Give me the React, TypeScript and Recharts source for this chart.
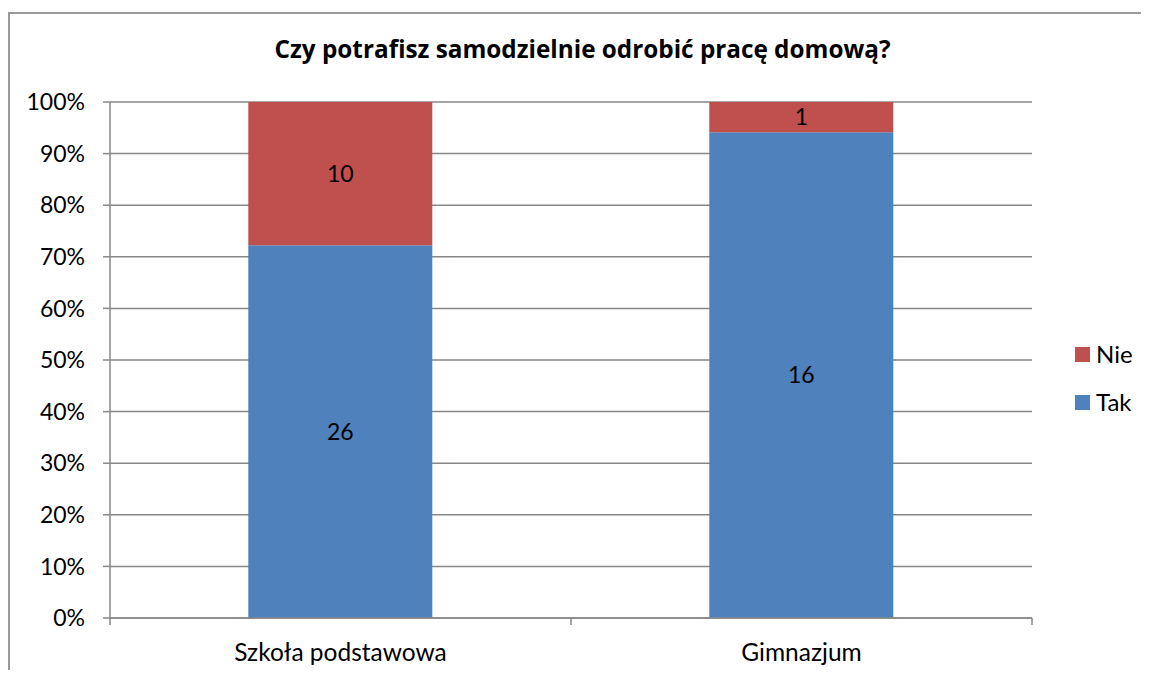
import React from "react";
import { BarChart, Bar, XAxis, YAxis, CartesianGrid, LabelList, Legend } from "recharts";

const categories = ["Szkoła podstawowa", "Gimnazjum"];
const takValues = [26, 16];
const nieValues = [10, 1];
const yTicks = [0, 0.1, 0.2, 0.3, 0.4, 0.5, 0.6, 0.7, 0.8, 0.9, 1];
const title = "Czy potrafisz samodzielnie odrobić pracę domową?";

const data = categories.map((c, i) => ({ name: c, Tak: takValues[i], Nie: nieValues[i] }));

const FONT = "Lato, 'Open Sans', sans-serif";
const TITLE_FONT = "'Open Sans', sans-serif";
const GRID = "#878787";
const BLUE = "#4F81BD";
const RED = "#C0504D";

const X_TICK_SIZE = 7;

const XTick = (props: any) => {
  const { x, y, payload, index, visibleTicksCount } = props;
  const axisY = y - X_TICK_SIZE;
  const half = 461 / 2;
  return (
    <g>
      <line x1={x - half} x2={x - half} y1={axisY} y2={axisY + X_TICK_SIZE} stroke={GRID} strokeWidth={1.5} />
      {index === (visibleTicksCount ?? 2) - 1 && (
        <line x1={x + half} x2={x + half} y1={axisY} y2={axisY + X_TICK_SIZE} stroke={GRID} strokeWidth={1.5} />
      )}
      <text x={x} y={axisY + 43} textAnchor="middle" fill="#000" fontSize={24.5} fontFamily={FONT}>
        {payload.value}
      </text>
    </g>
  );
};

const LegendContent = () => (
  <svg width={66} height={70} style={{ display: "block", overflow: "visible" }}>
    <rect x={0} y={0} width={15} height={15} fill={RED} />
    <text x={21} y={16} fontSize={24} fontFamily={FONT} fill="#000">Nie</text>
    <rect x={0} y={48} width={15} height={15} fill={BLUE} />
    <text x={21} y={64} fontSize={24} fontFamily={FONT} fill="#000">Tak</text>
  </svg>
);

export default function App() {
  return (
    <div
      style={{
        position: "relative",
        margin: -8,
        width: 1149,
        height: 678,
        overflow: "hidden",
        background: "#fff",
      }}
    >
      <div
        style={{
          position: "absolute",
          left: 8,
          top: 12,
          width: 1141,
          height: 666,
          borderLeft: `2px solid #999`,
          borderTop: `2px solid #999`,
          boxSizing: "border-box",
          pointerEvents: "none",
        }}
      />
      <svg width={1141} height={80} style={{ position: "absolute", left: 8, top: 8 }}>
        <text x={574.5} y={50} textAnchor="middle" fontSize={24.3} fontWeight="bold" fontFamily={TITLE_FONT} fill="#000">
          {title}
        </text>
      </svg>
      <div style={{ position: "absolute", left: 8, top: 8 }}>
        <BarChart
          width={1133}
          height={662}
          data={data}
          stackOffset="expand"
          barCategoryGap="30%"
          margin={{ top: 94, right: 109, bottom: 2, left: 0 }}
        >
          <CartesianGrid vertical={false} stroke={GRID} strokeWidth={1.5} />
          <XAxis
            dataKey="name"
            height={50}
            axisLine={{ stroke: GRID, strokeWidth: 1.5 }}
            tickLine={false}
            tickSize={X_TICK_SIZE}
            tickMargin={0}
            tick={<XTick />}
            interval={0}
          />
          <YAxis
            width={102}
            domain={[0, 1]}
            ticks={yTicks}
            tickFormatter={(v: number) => `${Math.round(v * 100)}%`}
            axisLine={{ stroke: GRID, strokeWidth: 1.5 }}
            tickLine={{ stroke: GRID, strokeWidth: 1.5 }}
            tickSize={7}
            tickMargin={18}
            tick={{ fill: "#000", fontSize: 23, fontFamily: FONT }}
          />
          <Legend
            layout="vertical"
            align="center"
            verticalAlign="middle"
            content={<LegendContent />}
            wrapperStyle={{ left: 1067, top: 339, width: 66, height: 70 }}
          />
          <Bar dataKey="Tak" stackId="a" fill={BLUE} isAnimationActive={false}>
            <LabelList dataKey="Tak" position="center" fill="#000" fontSize={23} fontFamily={FONT} />
          </Bar>
          <Bar dataKey="Nie" stackId="a" fill={RED} isAnimationActive={false}>
            <LabelList dataKey="Nie" position="center" fill="#000" fontSize={23} fontFamily={FONT} />
          </Bar>
        </BarChart>
      </div>
    </div>
  );
}
